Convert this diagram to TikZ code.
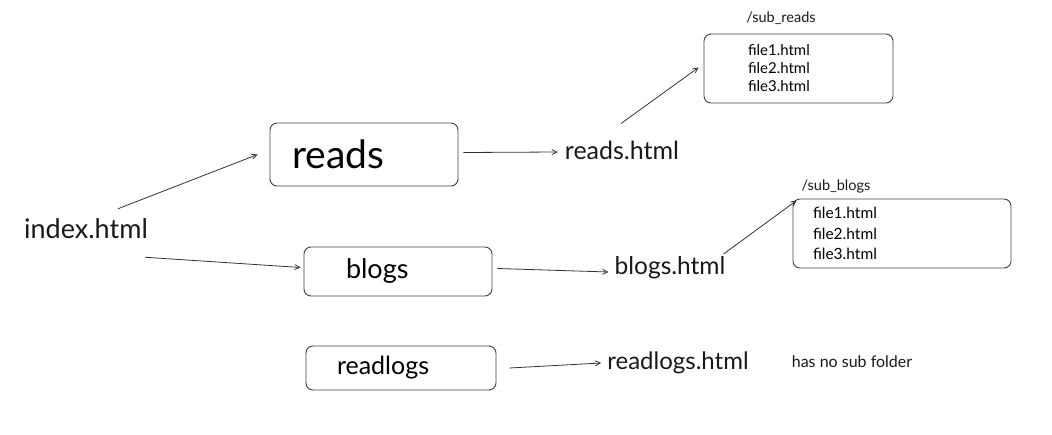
\documentclass[tikz,border=0pt]{standalone}
\usepackage{fontspec}
\setmainfont{Lato}
\usetikzlibrary{arrows.meta, positioning}

\tikzset{
  folder/.style={draw=black!75, line width=0.9pt, rounded corners=7pt},
  page/.style={inner sep=0pt, text=black!90},
  link/.style={draw=black!80, line width=0.8pt, -{Straight Barb[length=5pt,width=5pt]}},
}

\begin{document}
\begin{tikzpicture}[x=1pt,y=-1pt]
\useasboundingbox (0,0) rectangle (1052,434);

% Root page
\node[page, font=\fontsize{27}{29}\selectfont] (index) at (86,229) {index.html};

% Folders
\node[folder, minimum width=188pt, minimum height=63pt, text width=144pt,
  inner xsep=22pt, align=left, font=\fontsize{39}{41}\selectfont] (reads) at (364,154.5) {reads};
\node[folder, minimum width=188pt, minimum height=49pt, text width=104pt,
  inner xsep=42pt, align=left, font=\fontsize{27}{29}\selectfont] (blogs) at (398,271.5) {blogs};
\node[folder, minimum width=190pt, minimum height=44pt, text width=128pt,
  inner xsep=31pt, align=left, font=\fontsize{25}{27}\selectfont] (readlogs) at (401,368) {readlogs};

% Pages of the folders
\node[page, font=\fontsize{25}{27}\selectfont] (readshtml) at (622,150) {reads.html};
\node[page, font=\fontsize{24.5}{26}\selectfont] (blogshtml) at (670,268) {blogs.html};
\node[page, font=\fontsize{24}{26}\selectfont] (readlogshtml) at (678,363) {readlogs.html};
\node[page, font=\fontsize{16}{18}\selectfont] (nosub) at (852,362) {has no sub folder};

% Sub folders
\node[page, font=\fontsize{14.5}{16}\selectfont] (subreadslabel) at (781,18) {/sub\_reads};
\node[folder, minimum width=189pt, minimum height=69pt, text width=101pt,
  inner xsep=44pt, align=left, font=\fontsize{15}{18}\selectfont] (subreads) at (798.5,68.5)
  {file1.html\\file2.html\\file3.html};
\node[page, font=\fontsize{14.5}{16}\selectfont] (subblogslabel) at (836,186) {/sub\_blogs};
\node[folder, minimum width=218pt, minimum height=69pt, text width=178pt,
  inner xsep=20pt, align=left, font=\fontsize{15.5}{20.5}\selectfont] (subblogs) at (902,233.5)
  {file1.html\\file2.html\\file3.html};

% Connectors
\draw[link] ([xshift=32pt,yshift=10pt]index.north) -- ([xshift=-12pt]reads.west);
\draw[link] ([xshift=-3pt,yshift=-18pt]index.south east) -- ([xshift=-3pt,yshift=4pt]blogs.west);
\draw[link] ([xshift=5pt,yshift=2pt]reads.east) -- ([xshift=-7pt,yshift=-2pt]readshtml.west);
\draw[link] ([xshift=5pt,yshift=3pt]blogs.east) -- ([xshift=-6pt,yshift=-4pt]blogshtml.west);
\draw[link] ([xshift=13pt]readlogs.east) -- ([xshift=-6pt]readlogshtml.west);
\draw[link] ([xshift=-1pt,yshift=17pt]readshtml.north) -- ([xshift=-5pt,yshift=1pt]subreads.west);
\draw[link] ([xshift=-2pt,yshift=14pt]blogshtml.east) -- ([xshift=4pt,yshift=-2pt]subblogs.north west);
\end{tikzpicture}
\end{document}
